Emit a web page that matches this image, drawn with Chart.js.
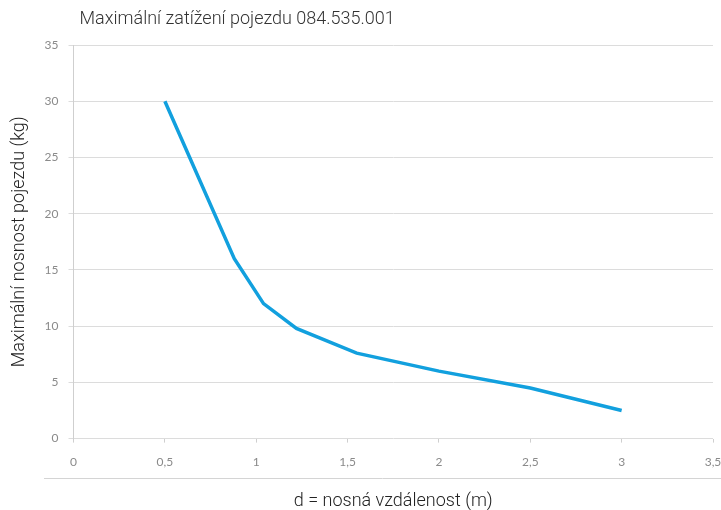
<!DOCTYPE html>
<html>
<head>
<meta charset="utf-8">
<script src="https://cdn.jsdelivr.net/npm/chart.js@4/dist/chart.umd.min.js"></script>
<style>
  html, body { margin: 0; padding: 0; background: #fff; }
  #wrap { width: 721px; height: 510px; position: relative; }
</style>
</head>
<body>
<div id="wrap"><canvas id="nosnostChart"></canvas></div>
<script>
// data
const chartTitle = 'Maximální zatížení pojezdu 084.535.001';
const distances = [0.5, 0.88, 1.04, 1.22, 1.55, 2, 2.5, 3];   // d (m)
const loads = [30, 16, 12, 9.8, 7.6, 6, 4.5, 2.5];            // kg
const xTicks = [0, 0.5, 1, 1.5, 2, 2.5, 3, 3.5];
const yTicks = [0, 5, 10, 15, 20, 25, 30, 35];

const points = distances.map((d, i) => ({ x: d, y: loads[i] }));

// main title + thin line under the x labels
const decorPlugin = {
    id: 'decor',
    afterDraw(chart) {
        const ctx = chart.ctx;
        const area = chart.chartArea;
        ctx.save();
        ctx.font = '300 18px Roboto';
        ctx.fillStyle = '#333';
        ctx.textBaseline = 'middle';
        ctx.textAlign = 'left';
        ctx.fillText(chartTitle, area.left + 6, 19);

        ctx.strokeStyle = '#d4d4d4';
        ctx.lineWidth = 1;
        ctx.beginPath();
        ctx.moveTo(44, 478.5);
        ctx.lineTo(721, 478.5);
        ctx.stroke();
        ctx.restore();
    }
};

const ctx = document.getElementById('nosnostChart').getContext('2d');
new Chart(ctx, {
    type: 'line',
    data: {
        datasets: [{
            data: points,
            borderColor: '#12a0de',
            borderWidth: 3.5,
            pointRadius: 0,
            tension: 0,
            fill: false
        }]
    },
    options: {
        responsive: true,
        maintainAspectRatio: false,
        animation: false,
        layout: { padding: { top: 45, right: 7, left: 5, bottom: 0 } },
        plugins: {
            legend: { display: false },
            tooltip: { enabled: false },
            title: { display: false }
        },
        scales: {
            x: {
                type: 'linear',
                min: 0,
                max: 3.5,
                afterBuildTicks: (axis) => { axis.ticks = xTicks.map(v => ({ value: v })); },
                afterFit: (axis) => { axis.paddingLeft = 0; axis.paddingRight = 8; },
                ticks: {
                    color: '#8a8a8a',
                    font: { family: 'Lato', size: 12 },
                    padding: 12,
                    maxRotation: 0,
                    callback: (v) => String(v).replace('.', ',')
                },
                grid: {
                    drawOnChartArea: false,
                    drawTicks: true,
                    tickLength: 4,
                    color: '#cfcfcf'
                },
                border: { display: false },
                title: {
                    display: true,
                    text: 'd = nosná vzdálenost (m)',
                    color: '#222',
                    font: { family: 'Roboto', weight: '300', size: 18, lineHeight: 1 },
                    padding: { top: 11, bottom: 0 }
                }
            },
            y: {
                min: 0,
                max: 35,
                afterBuildTicks: (axis) => { axis.ticks = yTicks.map(v => ({ value: v })); },
                ticks: {
                    color: '#8a8a8a',
                    font: { family: 'Lato', size: 12 },
                    padding: 10
                },
                grid: {
                    color: '#dcdcdc',
                    lineWidth: 1,
                    tickLength: 5
                },
                border: { display: true, color: '#cfcfcf' },
                title: {
                    display: true,
                    text: 'Maximální nosnost pojezdu (kg)',
                    color: '#222',
                    font: { family: 'Roboto', weight: '300', size: 18 },
                    padding: { top: 4, bottom: 4 }
                }
            }
        }
    },
    plugins: [decorPlugin]
});
</script>
</body>
</html>
